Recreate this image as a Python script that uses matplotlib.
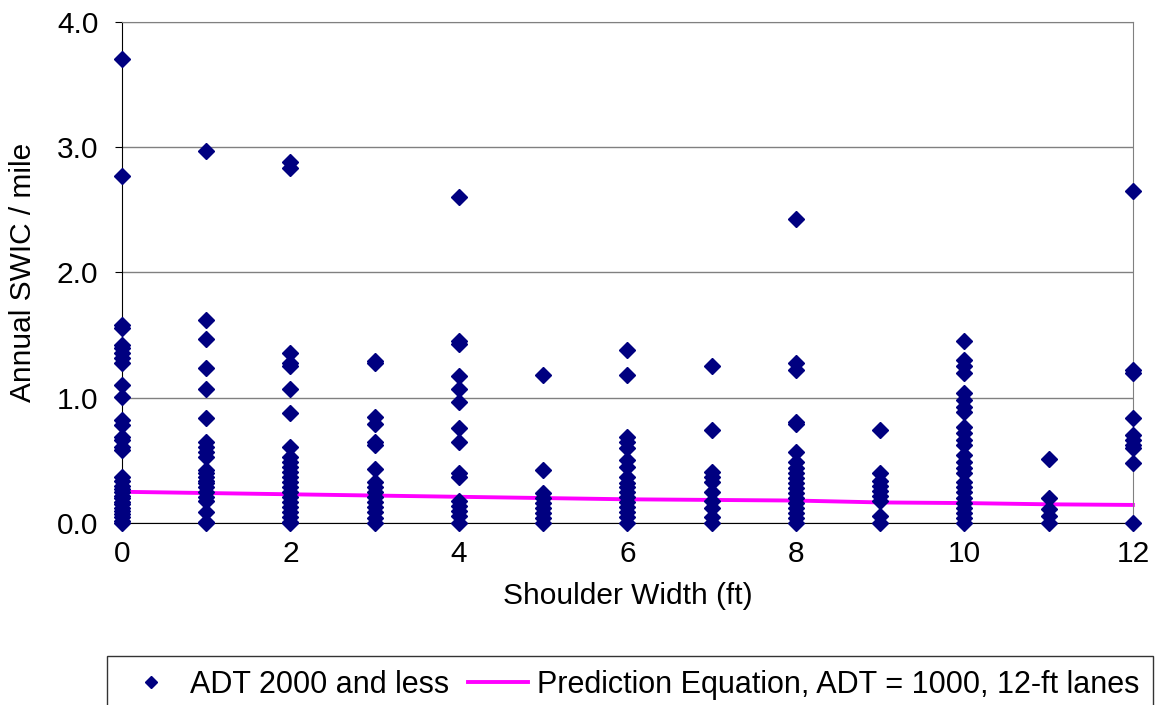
import numpy as np
import matplotlib
matplotlib.use("Agg")
import matplotlib.pyplot as plt

plt.rcParams['font.family'] = ['Liberation Sans', 'DejaVu Sans']

# crash rate points per shoulder width
swic = {
    0: [3.70, 2.77, 1.58, 1.56, 1.42, 1.40, 1.36, 1.32, 1.28, 1.10, 1.01, 0.82, 0.78,
        0.69, 0.66, 0.61, 0.58, 0.37, 0.34, 0.30, 0.27, 0.25, 0.22, 0.20, 0.17,
        0.15, 0.12, 0.10, 0.07, 0.05, 0.02, 0.0],
    1: [2.97, 1.62, 1.47, 1.24, 1.07, 0.84, 0.65, 0.61, 0.57, 0.53, 0.42, 0.40,
        0.37, 0.34, 0.32, 0.29, 0.25, 0.21, 0.18, 0.09, 0.01, 0.0],
    2: [2.88, 2.83, 1.36, 1.28, 1.25, 1.07, 0.88, 0.61, 0.53, 0.49, 0.45, 0.41,
        0.37, 0.33, 0.29, 0.25, 0.21, 0.17, 0.13, 0.09, 0.05, 0.01, 0.0],
    3: [1.29, 1.28, 0.85, 0.79, 0.65, 0.62, 0.43, 0.33, 0.29, 0.25, 0.21, 0.17,
        0.13, 0.09, 0.04, 0.0],
    4: [2.60, 1.45, 1.43, 1.17, 1.07, 0.97, 0.76, 0.65, 0.40, 0.37, 0.18, 0.14,
        0.10, 0.06, 0.0],
    5: [1.18, 0.42, 0.24, 0.20, 0.16, 0.12, 0.08, 0.04, 0.0],
    6: [1.38, 1.18, 0.69, 0.65, 0.60, 0.50, 0.45, 0.37, 0.32, 0.29, 0.25, 0.21,
        0.17, 0.13, 0.09, 0.05, 0.0],
    7: [1.25, 0.74, 0.41, 0.37, 0.33, 0.25, 0.18, 0.12, 0.05, 0.0],
    8: [2.43, 1.28, 1.22, 0.81, 0.79, 0.57, 0.49, 0.44, 0.40, 0.36, 0.32, 0.28,
        0.24, 0.20, 0.16, 0.12, 0.08, 0.04, 0.0],
    9: [0.74, 0.40, 0.34, 0.30, 0.26, 0.22, 0.18, 0.06, 0.0],
    10: [1.45, 1.30, 1.25, 1.20, 1.04, 0.98, 0.93, 0.89, 0.77, 0.72, 0.66, 0.62,
         0.54, 0.49, 0.44, 0.40, 0.33, 0.29, 0.25, 0.20, 0.16, 0.12, 0.08, 0.04, 0.0],
    11: [0.51, 0.20, 0.11, 0.06, 0.0],
    12: [2.65, 1.22, 1.20, 0.84, 0.70, 0.66, 0.62, 0.60, 0.48, 0.0],
}

pred_x = list(range(13))
pred_y = [0.25, 0.24, 0.23, 0.22, 0.21, 0.20, 0.19, 0.185, 0.18, 0.165, 0.16, 0.15, 0.145]

xs = []
ys = []
for w, vals in swic.items():
    xs += [w] * len(vals)
    ys += vals

FS = 21.5

fig = plt.figure(figsize=(11.56, 7.05), dpi=100)
ax = fig.add_axes([0.1055, 0.258, 0.8745, 0.711])

ax.yaxis.grid(True, color='#808080', lw=1)
ax.set_axisbelow(True)
sc, = ax.plot(xs, ys, 'D', color='#000080', ms=8, ls='none', clip_on=False,
              zorder=3, label='ADT 2000 and less')
ln, = ax.plot(pred_x, pred_y, color='#FF00FF', lw=2.8, clip_on=False, zorder=2,
              label='Prediction Equation, ADT = 1000, 12-ft lanes')

ax.set_xlim(0, 12)
ax.set_ylim(0, 4)
ax.set_xticks(range(0, 13, 2))
ax.set_yticks(np.arange(0, 4.01, 1))
ax.set_yticklabels([f'{v:.1f}' for v in np.arange(0, 4.01, 1)])
ax.tick_params(labelsize=FS, direction='out', length=5, pad=12)
ax.tick_params(axis='x', length=0, pad=12)
for s in ['top', 'right']:
    ax.spines[s].set_color('#808080')
ax.spines['left'].set_color('black')
ax.spines['bottom'].set_color('black')

ax.set_xlabel('Shoulder Width (ft)', fontsize=FS, labelpad=10)
ax.set_ylabel('Annual SWIC / mile', fontsize=FS, labelpad=14)

leg = fig.legend(handles=[sc, ln], loc='upper left', ncol=2,
                 bbox_to_anchor=(107 / 1156, 1 - 656 / 705), borderaxespad=0,
                 fontsize=22, frameon=True, fancybox=False, edgecolor='black',
                 handlelength=1.95, handletextpad=0.3, columnspacing=0.65,
                 markerscale=0.75, borderpad=0.45)
leg.get_frame().set_linewidth(1)

fig.savefig('out.png', dpi=100)
